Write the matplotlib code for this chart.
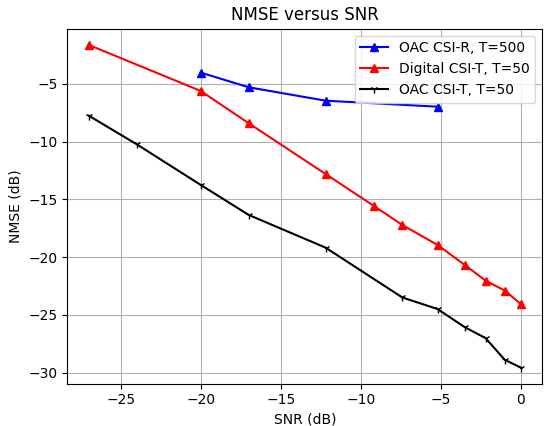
import matplotlib
matplotlib.use("Agg")
import matplotlib.pyplot as plt

# SNR points (dB)
snr_oac_r = [-20, -17, -12.2, -5.2]
snr_all = [-27, -24, -20, -17, -12.2, -7.4, -5.2, -3.5, -2.2, -1, 0]
snr_dig = [-27, -20, -17, -12.2, -9.2, -7.4, -5.2, -3.5, -2.2, -1, 0]

# NMSE values (dB)
nmse_oac_r = [-4.02, -5.29, -6.45, -6.97]
nmse_dig = [-1.62, -5.61, -8.41, -12.8, -15.55, -17.22, -18.95, -20.68, -22.04, -22.9, -24.06]
nmse_oac_t = [-7.75, -10.23, -13.75, -16.35, -19.18, -23.5, -24.5, -26.07, -27.02, -28.9, -29.57]

fig = plt.figure(figsize=(5.44, 4.26), dpi=100)
ax = fig.add_axes([0.1235, 0.0993, 0.8735, 0.8331])
ax.plot(snr_oac_r, nmse_oac_r, "b-^", label="OAC CSI-R, T=500")
ax.plot(snr_dig, nmse_dig, "r-^", label="Digital CSI-T, T=50")
ax.plot(snr_all, nmse_oac_t, "k-1", label="OAC CSI-T, T=50")
ax.set_xlabel("SNR (dB)")
ax.set_ylabel("NMSE (dB)")
ax.set_title("NMSE versus SNR")
ax.legend(loc="upper right")
ax.grid(True)
fig.savefig("out.png", dpi=100)
